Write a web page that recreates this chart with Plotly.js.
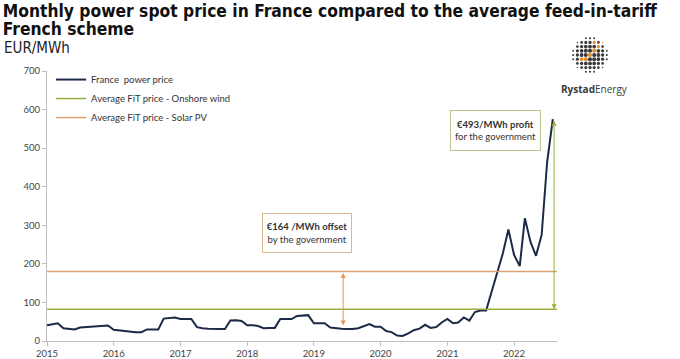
<!DOCTYPE html>
<html>
<head>
<meta charset="utf-8">
<script src="https://cdn.plot.ly/plotly-3.0.1.min.js"></script>
<style>html,body{margin:0;padding:0;background:#fff;}#chart{width:680px;height:359px;}</style>
</head>
<body>
<div id="chart"></div>
<script>
// ---- data ----
const startYear = 2015;
const startMonth = 1;
const powerPrice = [
  // 2015
  41, 44, 46, 33, 31, 30, 35, 36, 37, 38, 40, 40,
  // 2016
  29, 27, 26, 23, 23, 23, 30, 30, 30, 58, 60, 61,
  // 2017
  57, 57, 57, 36, 33, 32, 31, 31, 31, 53, 54, 52,
  // 2018
  41, 41, 39, 33, 34, 34, 57, 57, 57, 65, 66, 67,
  // 2019
  46, 46, 46, 35, 33, 32, 31, 31, 33, 38, 44, 37,
  // 2020
  37, 26, 23, 14, 13, 20, 28, 32, 42, 34, 36, 48,
  // 2021
  57, 46, 48, 61, 53, 75, 79, 79, 128, 180, 228, 289,
  // 2022
  223, 194, 318, 257, 221, 275, 464, 575
];
const fitWind = 82;
const fitSolar = 180;
const lineSpan = ['2015-01-01', '2022-08-24'];
const offsetArrow = {date: '2019-06-10', from: 40, to: fitSolar};
const profitArrow = {date: '2022-08-08', from: 575, to: fitWind};
const yTicks = [0, 100, 200, 300, 400, 500, 600, 700];
const xTickYears = [2015, 2016, 2017, 2018, 2019, 2020, 2021, 2022];

const seriesNames = ['France  power price', 'Average FiT price - Onshore wind', 'Average FiT price - Solar PV'];
const titleLines = ['Monthly power spot price in France compared to the average feed-in-tariff', 'French scheme'];

// ---- build dates ----
const dates = powerPrice.map((v, i) => {
  const m = startMonth - 1 + i;
  const y = startYear + Math.floor(m / 12);
  const mm = (m % 12) + 1;
  return y + '-' + String(mm).padStart(2, '0') + '-01';
});

const traces = [
  {x: dates, y: powerPrice, type: 'scatter', mode: 'lines', name: seriesNames[0],
   line: {color: '#1c2a48', width: 2}},
  {x: lineSpan, y: [fitWind, fitWind], type: 'scatter', mode: 'lines', name: seriesNames[1],
   line: {color: '#9aae3e', width: 1.5}},
  {x: lineSpan, y: [fitSolar, fitSolar], type: 'scatter', mode: 'lines', name: seriesNames[2],
   line: {color: '#d9a273', width: 1.5}}
];

// ---- plot geometry for logo ----
const W = 680, H = 359, L = 47, R = 123, T = 71, B = 18;
const pw = W - L - R, ph = H - T - B;
function px2paperX(px) { return (px - L) / pw; }
function px2paperY(py) { return (H - B - py) / ph; }

const shapes = [];
// logo: sphere of dots (decoration)
const cx = 590, cy = 55, Rad = 18, step = 4.2;
for (let i = -5; i <= 5; i++) {
  for (let j = -5; j <= 5; j++) {
    const dx = i * step, dy = j * step;
    const d = Math.sqrt(dx * dx + dy * dy);
    if (d > Rad) continue;
    const f = Math.sqrt(1 - (d / Rad) * (d / Rad));
    const r = 0.5 + 1.6 * f;
    const orange = (Math.abs(i + j) <= 0 && i >= -1 && i <= 3) || (i === 1 && j === -3) || (i === -2 && j === 1) || (i === 3 && j === -4);
    shapes.push({type: 'circle', xref: 'paper', yref: 'paper',
      x0: px2paperX(cx + dx - r), x1: px2paperX(cx + dx + r),
      y0: px2paperY(cy + dy + r), y1: px2paperY(cy + dy - r),
      fillcolor: orange ? '#e8892e' : '#3a3a3a', line: {width: 0}});
  }
}

const boxFont = {family: 'Lato', size: 9.5, color: '#333'};
const annotations = [
  {xref: 'paper', yref: 'paper', x: px2paperX(2), y: px2paperY(37), xanchor: 'left', yanchor: 'top',
   text: 'EUR/MWh', showarrow: false, font: {family: 'DejaVu Sans Condensed, DejaVu Sans', size: 15, color: '#222'}},
  {xref: 'paper', yref: 'paper', x: px2paperX(594), y: px2paperY(89), xanchor: 'center', yanchor: 'middle',
   text: '<b>Rystad</b>Energy', showarrow: false, font: {family: 'Open Sans', size: 10, color: '#3a3a3a'}},
  // offset box
  {xref: 'paper', yref: 'paper', x: px2paperX(307), y: px2paperY(233), xanchor: 'center', yanchor: 'middle',
   text: '<b>€164 /MWh offset</b><br>by the government', showarrow: false,
   font: boxFont, bordercolor: '#d6b98e', borderwidth: 1,
   borderpad: 4, bgcolor: '#fff', width: 80, height: 30, align: 'center'},
  // profit box
  {xref: 'paper', yref: 'paper', x: px2paperX(495.5), y: px2paperY(130.5), xanchor: 'center', yanchor: 'middle',
   text: '<b>€493/MWh profit</b><br>for the government', showarrow: false,
   font: boxFont, bordercolor: '#bcc48f', borderwidth: 1,
   borderpad: 4, bgcolor: '#fff', width: 81, height: 31, align: 'center'},
  // arrows
  {x: offsetArrow.date, y: offsetArrow.from, ax: offsetArrow.date, ay: offsetArrow.to,
   xref: 'x', yref: 'y', axref: 'x', ayref: 'y', text: '', showarrow: true,
   arrowhead: 2, startarrowhead: 2, arrowside: 'end+start', arrowsize: 1, arrowwidth: 1,
   arrowcolor: '#e0955a', standoff: 0, startstandoff: 0},
  {x: profitArrow.date, y: profitArrow.to, ax: profitArrow.date, ay: profitArrow.from,
   xref: 'x', yref: 'y', axref: 'x', ayref: 'y', text: '', showarrow: true,
   arrowhead: 2, startarrowhead: 2, arrowside: 'end+start', arrowsize: 1, arrowwidth: 1,
   arrowcolor: '#9aae3e', standoff: 0, startstandoff: 0}
];

const titleText = titleLines.map(t => '<span style="font-size:17.3px">' + t + '</span>').join('<br>');

const layout = {
  width: W, height: H,
  margin: {l: L, r: R, t: T, b: B},
  paper_bgcolor: '#fff', plot_bgcolor: '#fff',
  title: {text: '<b>' + titleText + '</b>',
    x: 0.004, xanchor: 'left', xref: 'container', y: 0.952, yanchor: 'top', yref: 'container',
    font: {family: 'DejaVu Sans Condensed, DejaVu Sans', size: 13.8, color: '#111'}},
  showlegend: true,
  legend: {x: 0.008, y: 1.022, xanchor: 'left', yanchor: 'top', bgcolor: 'rgba(0,0,0,0)',
    font: {family: 'Lato', size: 9.5, color: '#333'}, itemwidth: 30, tracegroupgap: 0},
  xaxis: {type: 'date', range: lineSpan, showgrid: false, zeroline: false,
    showline: true, linecolor: '#bfbfbf', linewidth: 1,
    ticks: 'outside', ticklen: 4, tickcolor: '#bfbfbf',
    tickvals: xTickYears.map(y => y + '-01-01'), ticktext: xTickYears.map(String),
    tickfont: {family: 'Lato', size: 9.5, color: '#444'}},
  yaxis: {range: [0, 700], tickvals: yTicks, showgrid: false, zeroline: false,
    showline: true, linecolor: '#bfbfbf', linewidth: 1,
    ticks: 'outside', ticklen: 4, tickcolor: '#bfbfbf',
    tickfont: {family: 'Lato', size: 9.5, color: '#444'}},
  shapes: shapes,
  annotations: annotations
};

Plotly.newPlot('chart', traces, layout, {displayModeBar: false, staticPlot: true});
</script>
</body>
</html>
